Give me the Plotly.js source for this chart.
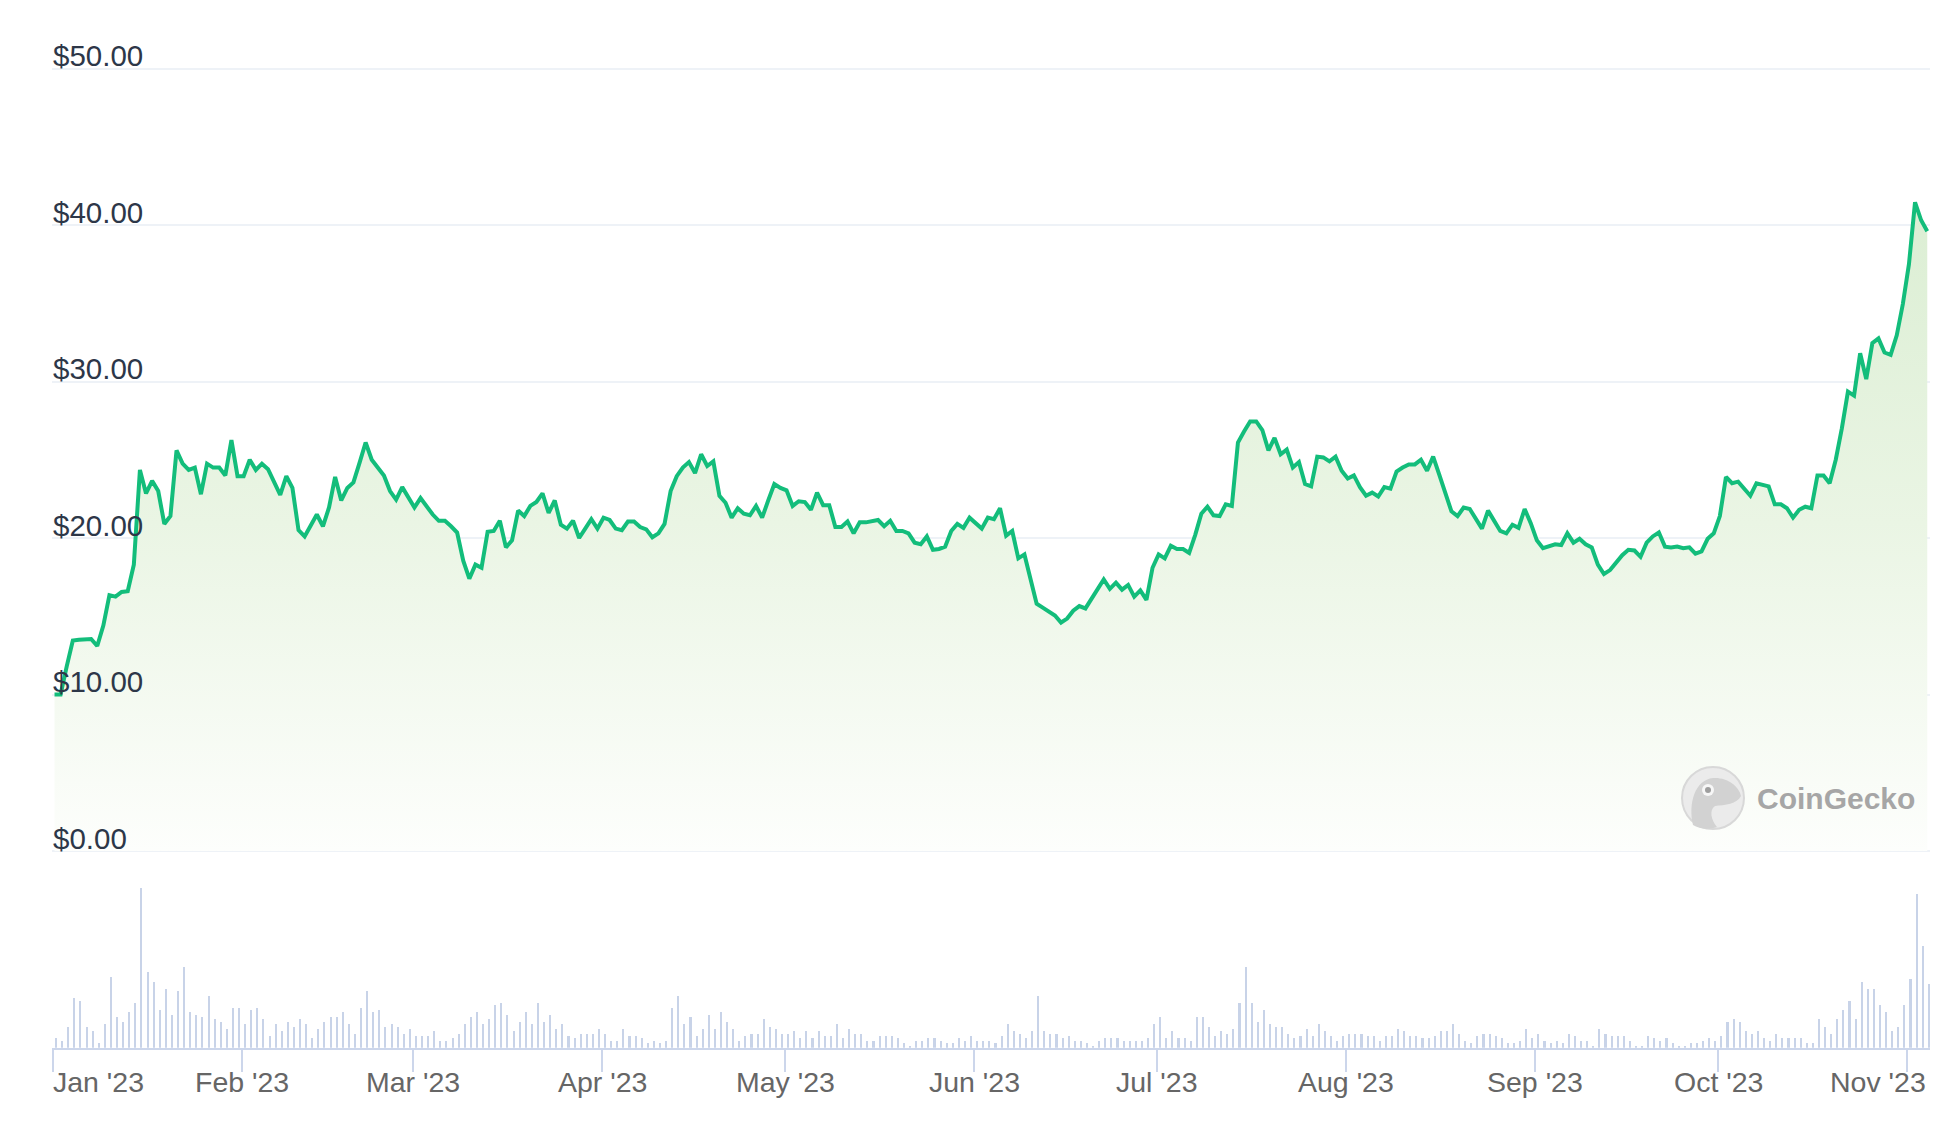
<!DOCTYPE html>
<html>
<head>
<meta charset="utf-8">
<script src="https://cdn.plot.ly/plotly-3.0.1.min.js"></script>
<style>
html,body{margin:0;padding:0;background:#ffffff;}
#chart{width:1956px;height:1132px;}
</style>
</head>
<body>
<div id="chart"></div>
<script>
// Daily series, starting 2023-01-01 (one value per day)
const priceStart = '2023-01-01 06:00';
const volumeStart = '2023-01-01 12:00';

const prices = [
10.0,10.0,11.8,13.45,13.5,13.5,13.55,13.1,14.4,16.35,
16.25,16.55,16.6,18.3,24.35,22.85,23.65,23.0,20.9,21.4,
25.6,24.75,24.35,24.5,22.8,24.75,24.5,24.5,24.0,26.25,
23.95,23.95,25.0,24.35,24.75,24.4,23.55,22.75,23.95,23.2,
20.5,20.1,20.8,21.5,20.75,21.95,23.9,22.4,23.2,23.55,
24.8,26.1,25.0,24.45,24.0,23.0,22.45,23.25,22.6,21.95,
22.55,22.0,21.5,21.1,21.1,20.75,20.35,18.55,17.4,18.3,
18.1,20.4,20.45,21.1,19.4,19.85,21.75,21.4,22.05,22.3,
22.85,21.6,22.4,20.85,20.6,21.1,20.0,20.6,21.2,20.6,
21.3,21.15,20.6,20.5,21.05,21.05,20.7,20.55,20.05,20.3,
20.9,23.0,23.95,24.5,24.85,24.15,25.35,24.6,24.9,22.7,
22.25,21.3,21.9,21.55,21.45,22.05,21.3,22.4,23.45,23.2,
23.05,22.05,22.35,22.3,21.8,22.9,22.1,22.1,20.7,20.7,
21.05,20.3,21.0,21.0,21.05,21.15,20.75,21.1,20.45,20.45,
20.3,19.7,19.6,20.1,19.25,19.3,19.45,20.45,20.9,20.65,
21.3,20.95,20.6,21.3,21.2,21.9,20.15,20.45,18.7,18.95,
17.4,15.8,15.55,15.3,15.05,14.6,14.85,15.35,15.65,15.5,
16.1,16.7,17.35,16.75,17.15,16.7,17.0,16.25,16.65,16.05,
18.1,18.95,18.7,19.5,19.3,19.3,19.05,20.2,21.55,22.0,
21.45,21.4,22.15,22.05,26.1,26.8,27.45,27.45,26.9,25.6,
26.4,25.35,25.65,24.5,24.85,23.45,23.3,25.2,25.15,24.9,
25.2,24.3,23.8,24.0,23.25,22.7,22.9,22.65,23.25,23.15,
24.25,24.5,24.7,24.7,25.0,24.3,25.2,24.05,22.9,21.7,
21.4,21.95,21.85,21.25,20.6,21.75,21.15,20.45,20.3,20.85,
20.65,21.85,20.95,19.85,19.35,19.5,19.6,19.55,20.3,19.7,
19.95,19.6,19.4,18.3,17.7,17.95,18.45,18.9,19.25,19.2,
18.8,19.7,20.1,20.35,19.45,19.4,19.45,19.35,19.4,19.0,
19.15,19.95,20.3,21.4,23.9,23.5,23.6,23.15,22.7,23.5,
23.4,23.3,22.15,22.15,21.9,21.3,21.8,22.0,21.9,24.0,
24.0,23.5,25.0,27.0,29.35,29.1,31.8,30.15,32.45,32.75,
31.85,31.7,32.95,34.95,37.5,41.45,40.3,39.6
];

// Relative daily trading volume (no axis shown in the original)
const volumes = [
9.3,6.7,21,49.7,47,21,16.7,4.3,23.7,71,
30.7,26,35.7,44.7,160,75.7,66,37.7,58.7,33,
56.7,80.3,35.3,33,30.7,51.7,28.3,26,18.7,40,
40,23.7,37.7,40,28.3,11.7,23.7,16.3,26,21,
28.3,23.7,9.3,18.7,26,30.7,30.7,35.3,23.7,14,
40,56.7,35.3,37.7,21,23.7,21,14,18.7,11.7,
11.7,11.7,16.3,7,7,9.3,14,23.7,30.7,35.3,
23.7,28.3,42.3,44.7,33,16.3,26,35.3,23.7,44.7,
26,33,18.7,23.7,11.7,9.3,14,14,14,18.7,
14,7,7,18.7,11.7,11.7,9.3,4.3,7,4.3,
7,40,51.7,23.7,30.7,11.7,18.7,33,18.7,35.3,
26,18.7,6.7,11.7,14,14,28.3,21,18.7,14,
14,16.3,9.3,16.3,9.3,16.3,11.7,11.7,23.7,9.3,
18.7,14,14,6.7,6.7,11.7,11.7,11.7,9.3,4.3,
2,6.7,6.7,9.3,9.3,6.7,4.3,4.3,9.3,6.7,
11.7,6.7,6.7,6.7,4.3,11.7,23.7,16.3,14,9.3,
16.3,51.7,16.3,14,14,9.3,11.7,6.7,6.7,4.3,
2,6.7,9.3,9.3,9.3,6.7,6.7,6.7,6.7,9.3,
23.7,30.7,9.3,16.3,9.3,9.3,6.7,30.7,30.7,21,
11.7,16.3,14,18.7,44.7,80.3,44.7,26,37.7,23.7,
21,21,14,9.3,11.7,18.7,11.7,23.7,16.3,11.7,
6.7,11.7,14,14,14,11.7,11.7,6.7,11.7,11.7,
18.7,16.3,11.7,11.7,9.3,9.3,11.7,16.3,16.3,23.7,
14,6.7,4.3,11.7,14,14,11.7,9.3,4.3,4.3,
6.7,18.7,9.3,14,6.7,4.3,6.7,4.3,14,11.7,
6.7,6.7,2,18.7,14,11.7,11.7,11.7,6.7,2,
2,11.7,9.3,6.7,9.3,4.3,2,2,4.3,4.3,
6.7,9.3,6.7,11.7,26,28.3,26,16.3,14,16.3,
9.3,6.7,14,9.3,9.3,9.3,9.3,4.3,4.3,28.3,
21,14,28.3,37.7,47,28.3,66,58.7,58.7,42.3,
35.3,16.3,21,42.3,68.3,153.7,101.7,63.7
];

const monthTicks = ['2023-01-01','2023-02-01','2023-03-01','2023-04-01','2023-05-01','2023-06-01',
  '2023-07-01','2023-08-01','2023-09-01','2023-10-01','2023-11-01'];
const monthLabels = ["Jan '23","Feb '23","Mar '23","Apr '23","May '23","Jun '23",
  "Jul '23","Aug '23","Sep '23","Oct '23","Nov '23"];
const priceTicks = [0,10,20,30,40,50];
const priceTickLabels = ['$0.00','$10.00','$20.00','$30.00','$40.00','$50.00'];

const W = 1956, H = 1132;
const px = x => x / W;
const py = y => 1 - y / H;
const FONT = 'Liberation Sans, Arial, Helvetica, sans-serif';
const DAY = 86400000;

// price axis: $0 at y=851px, $50 at y=68.5px
const PPD = (851 - 68.5) / 50;   // pixels per dollar
const yLo = -0.6, yHi = 51.2;

const priceTrace = {
  type: 'scatter', mode: 'lines',
  x0: priceStart, dx: DAY, y: prices,
  line: {color: '#13bd7b', width: 4},
  fill: 'tozeroy',
  fillgradient: {type: 'vertical', start: 0, stop: 42,
    colorscale: [[0, 'rgb(253,254,252)'], [0.5, 'rgb(234,245,228)'], [1, 'rgb(219,238,211)']]},
  xaxis: 'x', yaxis: 'y', hoverinfo: 'skip'
};

const volumeTrace = {
  type: 'bar',
  x0: volumeStart, dx: DAY, y: volumes,
  width: 0.34 * DAY,
  marker: {color: '#c8d3e8', line: {width: 0}},
  xaxis: 'x', yaxis: 'y2', hoverinfo: 'skip'
};

const annotations = monthLabels.map((t, i) => {
  const last = i === monthLabels.length - 1;
  return {
    xref: 'x', yref: 'paper', x: monthTicks[i], y: py(1082),
    text: t, showarrow: false,
    xanchor: i === 0 ? 'left' : (last ? 'right' : 'center'),
    xshift: i === 0 ? -2 : (last ? 21 : 0),
    yanchor: 'middle',
    font: {family: FONT, size: 28.5, color: '#666666'}
  };
});
annotations.push({
  xref: 'paper', yref: 'paper', x: px(1755), y: py(798),
  text: 'CoinGecko', showarrow: false, xanchor: 'left', yanchor: 'middle',
  font: {family: FONT, size: 30, color: '#a6a6a6', weight: 'bold'}
});

// watermark logo
const cx = 1713, cy = 798;
const P = (x, y) => px(cx + x).toFixed(5) + ',' + py(cy + y).toFixed(5);
const geckoPath = 'M' + P(-20, 27) +
  ' C' + P(-25, 5) + ' ' + P(-18, -18) + ' ' + P(0, -20) +
  ' C' + P(14, -21) + ' ' + P(26, -12) + ' ' + P(28, -2) +
  ' C' + P(24, 6) + ' ' + P(12, 7) + ' ' + P(2, 8) +
  ' C' + P(-4, 12) + ' ' + P(-2, 22) + ' ' + P(4, 29) +
  ' C' + P(-4, 32) + ' ' + P(-14, 31) + ' ' + P(-20, 27) + ' Z';

const shapes = [
  {type: 'circle', xref: 'paper', yref: 'paper',
   x0: px(cx - 31), x1: px(cx + 31), y0: py(cy + 31), y1: py(cy - 31),
   fillcolor: '#ebebeb', line: {color: '#d8d8d8', width: 2}},
  {type: 'path', xref: 'paper', yref: 'paper', path: geckoPath,
   fillcolor: '#d2d2d2', line: {width: 0}},
  {type: 'circle', xref: 'paper', yref: 'paper',
   x0: px(cx - 11), x1: px(cx + 1), y0: py(cy - 2), y1: py(cy - 14),
   fillcolor: '#f7f7f7', line: {width: 0}},
  {type: 'circle', xref: 'paper', yref: 'paper',
   x0: px(cx - 8), x1: px(cx - 2), y0: py(cy - 5), y1: py(cy - 11),
   fillcolor: '#9e9e9e', line: {width: 0}}
];

const layout = {
  width: W, height: H,
  margin: {l: 0, r: 0, t: 0, b: 0, pad: 0},
  paper_bgcolor: '#ffffff', plot_bgcolor: 'rgba(0,0,0,0)',
  showlegend: false,
  bargap: 0,
  xaxis: {
    type: 'date', domain: [px(52), px(1930)],
    range: ['2022-12-31 20:04', '2023-11-04 16:48'],
    anchor: 'y2',
    tickmode: 'array', tickvals: monthTicks, showticklabels: false,
    ticks: 'outside', ticklen: 22, tickwidth: 2, tickcolor: '#ccd6eb',
    showline: true, linecolor: '#ccd6eb', linewidth: 2,
    showgrid: false, zeroline: false, fixedrange: true
  },
  yaxis: {
    domain: [py(851 - yLo * PPD), py(851 - yHi * PPD)], range: [yLo, yHi], anchor: 'x',
    tickmode: 'array', tickvals: priceTicks, ticktext: priceTickLabels,
    ticklabelposition: 'inside top', ticklabeloverflow: 'allow',
    ticklabelstandoff: -2, ticklabelshift: 8,
    tickfont: {family: FONT, size: 29.5, color: '#2d3748'},
    ticks: '', showline: false,
    showgrid: true, gridcolor: '#eef2f7', gridwidth: 2,
    zeroline: false, fixedrange: true
  },
  yaxis2: {
    domain: [py(1047.7), py(880)], range: [0, 167.7], anchor: 'x',
    showgrid: false, showticklabels: false, zeroline: false, showline: false,
    ticks: '', fixedrange: true
  },
  annotations: annotations,
  shapes: shapes
};

Plotly.newPlot('chart', [priceTrace, volumeTrace], layout, {displayModeBar: false, staticPlot: true});
</script>
</body>
</html>
